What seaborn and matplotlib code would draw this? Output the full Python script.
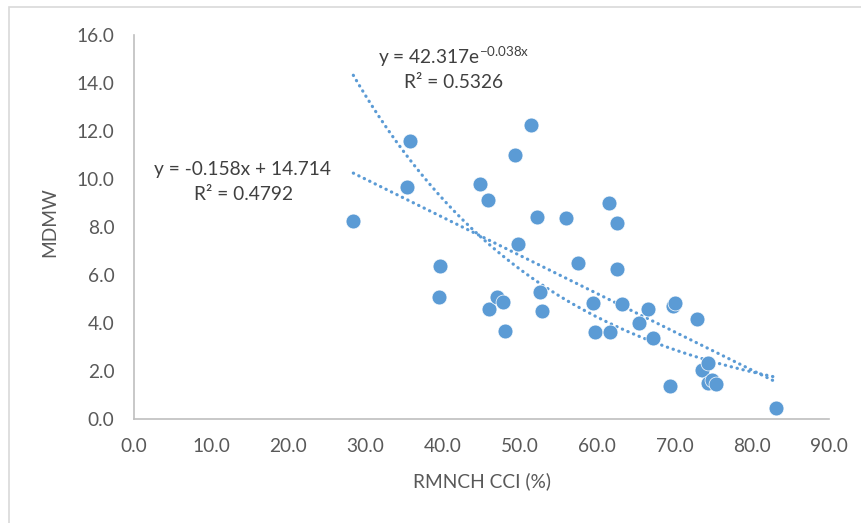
import matplotlib
matplotlib.use("Agg")
import matplotlib.pyplot as plt
from matplotlib.patches import Rectangle
import seaborn as sns
import numpy as np
import pandas as pd

# RMNCH composite coverage index (%) vs MDMW
rmnch_cci = [28.4, 35.3, 35.8, 39.6, 39.5, 44.8, 45.9, 46.0, 47.0, 47.8,
             48.0, 49.3, 49.7, 51.4, 52.2, 52.6, 52.8, 56.0, 57.5, 59.4,
             59.7, 61.5, 61.7, 62.5, 62.6, 63.2, 65.4, 66.6, 67.2, 69.4,
             69.8, 70.1, 72.9, 73.5, 74.3, 74.3, 74.9, 75.4, 83.1]
mdmw = [8.24, 9.68, 11.57, 6.39, 5.08, 9.80, 9.14, 4.60, 5.10, 4.86,
        3.67, 10.99, 7.29, 12.26, 8.40, 5.28, 4.49, 8.36, 6.48, 4.82,
        3.63, 8.99, 3.63, 8.15, 6.24, 4.80, 3.99, 4.57, 3.38, 1.38,
        4.71, 4.85, 4.15, 2.04, 2.35, 1.49, 1.63, 1.46, 0.47]

x_ticks = np.arange(0, 91, 10)
y_ticks = np.arange(0, 17, 2)

lin_label = ["y = -0.158x + 14.714", "R\u00b2 = 0.4792"]
exp_label = [r"y = 42.317e$^{\mathregular{-0.038x}}$", "R\u00b2 = 0.5326"]

df = pd.DataFrame({"RMNCH CCI (%)": rmnch_cci, "MDMW": mdmw})

sns.set_theme(style="white")
plt.rcParams["font.family"] = ["Lato", "DejaVu Sans"]

blue = "#5B9BD5"
grey = "#595959"
W, H = 861, 523
fs = 13.8

fig = plt.figure(figsize=(W / 100, H / 100), dpi=100)
ax = fig.add_axes([134 / W, 1 - 419 / H, (829 - 134) / W, (419 - 35) / H])

sns.scatterplot(data=df, x="RMNCH CCI (%)", y="MDMW", ax=ax, s=115,
                color=blue, edgecolor="white", linewidth=0.5, zorder=3)

# trendlines fitted from the data
dotted = dict(color=blue, lw=2.3, linestyle=(0, (0.1, 1.8)),
              dash_capstyle="round")
sns.regplot(data=df, x="RMNCH CCI (%)", y="MDMW", ax=ax, scatter=False,
            ci=None, truncate=True, line_kws=dotted)
b, log_a = np.polyfit(df["RMNCH CCI (%)"], np.log(df["MDMW"]), 1)
xs = np.linspace(df["RMNCH CCI (%)"].min(), df["RMNCH CCI (%)"].max(), 200)
sns.lineplot(x=xs, y=np.exp(log_a) * np.exp(b * xs), ax=ax, **dotted)

ax.set_xlim(0, 90)
ax.set_ylim(0, 16)
ax.set_xticks(x_ticks)
ax.set_yticks(y_ticks)
ax.set_xticklabels([f"{v:.1f}" for v in x_ticks])
ax.set_yticklabels([f"{v:.1f}" for v in y_ticks])
ax.tick_params(length=0, labelsize=fs, labelcolor=grey)
ax.tick_params(axis="x", pad=14)
ax.tick_params(axis="y", pad=14)
ax.set_xlabel("RMNCH CCI (%)", fontsize=fs, color=grey, labelpad=12)
ax.set_ylabel("")
fig.text(50 / W, 1 - 222 / H, "MDMW", rotation=90, fontsize=fs,
         color=grey, ha="center", va="center")

for side in ["top", "right"]:
    ax.spines[side].set_visible(False)
for side in ["left", "bottom"]:
    ax.spines[side].set_color("#BFBFBF")
    ax.spines[side].set_linewidth(1.2)

eq_col = "#404040"
fig.text(243 / W, 1 - 170 / H, lin_label[0], fontsize=fs, color=eq_col,
         ha="center", va="center")
fig.text(243 / W, 1 - 195 / H, lin_label[1], fontsize=fs, color=eq_col,
         ha="center", va="center")
fig.text(454 / W, 1 - 57 / H, exp_label[0], fontsize=fs, color=eq_col,
         ha="center", va="center")
fig.text(454 / W, 1 - 83 / H, exp_label[1], fontsize=fs, color=eq_col,
         ha="center", va="center")

# light chart-area border (cropped on right and bottom)
fig.add_artist(Rectangle((9 / W, -0.2), 1.2, 1.2 - 7 / H, fill=False,
                         edgecolor="#D9D9D9", lw=1.2,
                         transform=fig.transFigure))

fig.savefig("out.png", dpi=100)
